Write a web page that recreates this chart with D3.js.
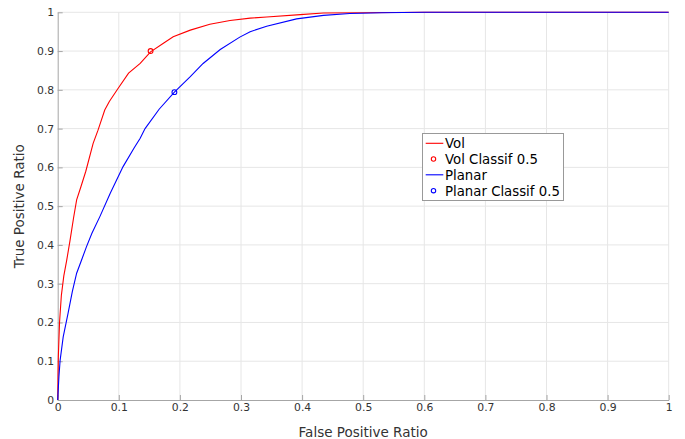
<!DOCTYPE html>
<html>
<head>
  <meta charset="utf-8">
  <script src="https://d3js.org/d3.v7.min.js"></script>
  <style>
    body { margin: 0; background: #fff; }
    text { font-family: "DejaVu Sans", sans-serif; }
  </style>
</head>
<body>
<script>
  // ROC curve points
  var volFpr = [0, 0.0005, 0.001, 0.003, 0.006, 0.01, 0.0147, 0.02, 0.026, 0.031, 0.038, 0.046, 0.058, 0.066, 0.077, 0.0845, 0.099, 0.116, 0.135, 0.152, 0.173, 0.189, 0.217, 0.249, 0.282, 0.315, 0.342, 0.397, 0.435, 0.5, 0.6, 1];
  var volTpr = [0, 0.06, 0.11, 0.20, 0.27, 0.32, 0.36, 0.41, 0.47, 0.516, 0.55, 0.59, 0.662, 0.696, 0.748, 0.77, 0.804, 0.843, 0.868, 0.898, 0.920, 0.937, 0.954, 0.969, 0.979, 0.985, 0.988, 0.994, 0.998, 0.999, 1, 1];

  var planarFpr = [0, 0.002, 0.004, 0.009, 0.017, 0.024, 0.031, 0.040, 0.047, 0.056, 0.069, 0.086, 0.107, 0.125, 0.135, 0.143, 0.166, 0.191, 0.217, 0.238, 0.266, 0.298, 0.315, 0.342, 0.391, 0.435, 0.478, 0.53, 0.6, 1];
  var planarTpr = [0, 0.06, 0.103, 0.163, 0.224, 0.28, 0.327, 0.365, 0.395, 0.43, 0.473, 0.533, 0.602, 0.65, 0.675, 0.70, 0.75, 0.794, 0.834, 0.868, 0.904, 0.936, 0.950, 0.964, 0.983, 0.992, 0.997, 0.999, 1, 1];

  // classifier threshold 0.5 points
  var volClassif = [0.152, 0.9];
  var planarClassif = [0.191, 0.794];

  var ticks = [0, 0.1, 0.2, 0.3, 0.4, 0.5, 0.6, 0.7, 0.8, 0.9, 1];
  var legendLabels = ['Vol', 'Vol Classif 0.5', 'Planar', 'Planar Classif 0.5'];

  var W = 685, H = 439;
  var mLeft = 57.7, mRight = 668.7, mTop = 12.3, mBottom = 400;

  var svg = d3.select('body').append('svg')
    .attr('width', W).attr('height', H);

  var x = d3.scaleLinear().domain([0, 1]).range([mLeft, mRight]);
  var y = d3.scaleLinear().domain([0, 1]).range([mBottom, mTop]);

  // grid
  svg.append('g').selectAll('line').data(ticks.slice(1)).enter().append('line')
    .attr('x1', function(d) { return x(d); }).attr('x2', function(d) { return x(d); })
    .attr('y1', mTop).attr('y2', mBottom)
    .style('stroke', '#e6e6e6').style('stroke-width', 1);
  svg.append('g').selectAll('line').data(ticks.slice(1)).enter().append('line')
    .attr('y1', function(d) { return y(d); }).attr('y2', function(d) { return y(d); })
    .attr('x1', mLeft).attr('x2', mRight)
    .style('stroke', '#e6e6e6').style('stroke-width', 1);

  // axes
  var xAxis = svg.append('g')
    .attr('transform', 'translate(0,' + mBottom + ')')
    .call(d3.axisBottom(x).tickValues(ticks).tickSizeInner(-5).tickSizeOuter(0).tickPadding(5)
      .tickFormat(function(d) { return d3.format('')(d); }));
  var yAxis = svg.append('g')
    .attr('transform', 'translate(' + mLeft + ',0)')
    .call(d3.axisLeft(y).tickValues(ticks).tickSizeInner(-5).tickSizeOuter(0).tickPadding(3)
      .tickFormat(function(d) { return d3.format('')(d); }));

  [xAxis, yAxis].forEach(function(a) {
    a.select('.domain').style('stroke', '#a6a6a6');
    a.selectAll('.tick line').style('stroke', '#a6a6a6');
    a.selectAll('.tick text')
      .style('font-family', '"DejaVu Sans", sans-serif')
      .style('font-size', '10.8px')
      .style('fill', '#333');
  });
  yAxis.selectAll('.tick text').attr('x', -3.5);
  xAxis.selectAll('.tick text').attr('y', 3.5);

  // axis titles
  svg.append('text')
    .attr('x', (mLeft + mRight) / 2).attr('y', 437)
    .style('text-anchor', 'middle').style('font-size', '13.5px').style('fill', '#333')
    .text('False Positive Ratio');
  svg.append('text')
    .attr('transform', 'translate(24,' + (mTop + mBottom) / 2 + ') rotate(-90)')
    .style('text-anchor', 'middle').style('font-size', '13.5px').style('fill', '#333')
    .text('True Positive Ratio');

  var line = d3.line()
    .x(function(d) { return x(d[0]); })
    .y(function(d) { return y(d[1]); });

  var volData = d3.zip(volFpr, volTpr);
  var planarData = d3.zip(planarFpr, planarTpr);

  svg.append('path').datum(volData).attr('d', line)
    .style('fill', 'none').style('stroke', '#ff0000').style('stroke-width', 1.1);
  svg.append('path').datum(planarData).attr('d', line)
    .style('fill', 'none').style('stroke', '#0000ff').style('stroke-width', 1.1);

  svg.append('circle').attr('cx', x(volClassif[0])).attr('cy', y(volClassif[1])).attr('r', 2.4)
    .style('fill', 'none').style('stroke', '#ff0000').style('stroke-width', 1.1);
  svg.append('circle').attr('cx', x(planarClassif[0])).attr('cy', y(planarClassif[1])).attr('r', 2.4)
    .style('fill', 'none').style('stroke', '#0000ff').style('stroke-width', 1.1);

  // legend
  var lg = svg.append('g');
  lg.append('rect')
    .attr('x', 422.5).attr('y', 133.5).attr('width', 141).attr('height', 67)
    .style('fill', '#fff').style('stroke', '#999').style('stroke-width', 1);
  var legendColors = ['#ff0000', '#ff0000', '#0000ff', '#0000ff'];
  var legendKinds = ['line', 'marker', 'line', 'marker'];
  var rowY = [143.3, 159, 174.8, 190.7];
  legendLabels.forEach(function(lbl, i) {
    if (legendKinds[i] === 'line') {
      lg.append('line').attr('x1', 425.7).attr('x2', 443.3)
        .attr('y1', rowY[i]).attr('y2', rowY[i])
        .style('stroke', legendColors[i]).style('stroke-width', 1.1);
    } else {
      lg.append('circle').attr('cx', 433.5).attr('cy', rowY[i]).attr('r', 2.2)
        .style('fill', 'none').style('stroke', legendColors[i]).style('stroke-width', 1.1);
    }
    lg.append('text').attr('x', 445).attr('y', rowY[i] + 4.8)
      .style('font-size', '13.3px').style('fill', '#000')
      .text(lbl);
  });
</script>
</body>
</html>
